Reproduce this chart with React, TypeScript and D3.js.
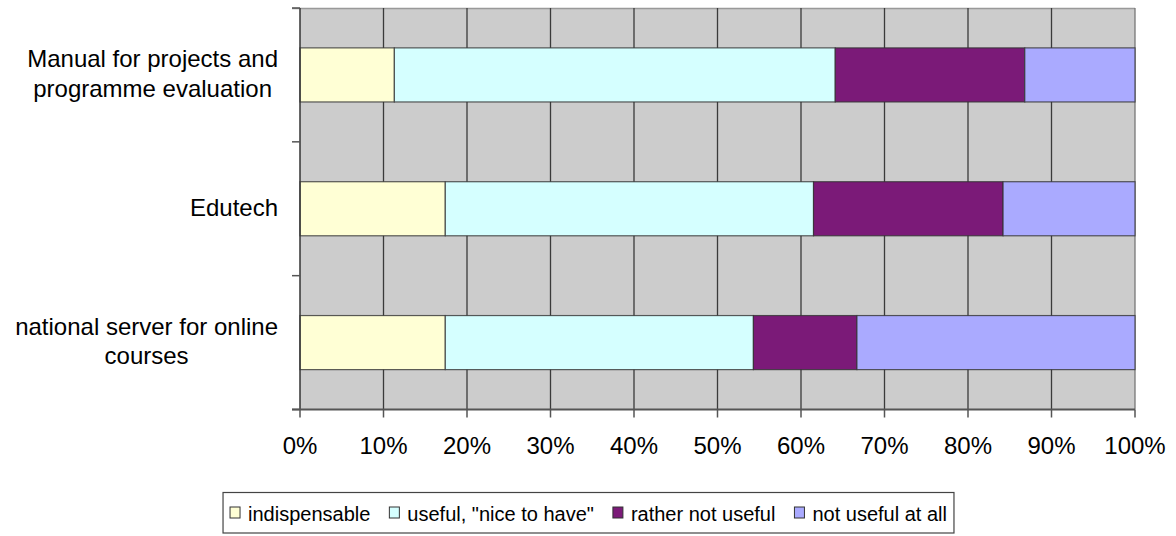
import React, { useEffect, useRef } from "react";
import * as d3 from "d3";

const categories: string[][] = [
  ["Manual for projects and", "programme evaluation"],
  ["Edutech"],
  ["national server for online", "courses"],
];
const seriesNames = ["indispensable", "useful, \"nice to have\"", "rather not useful", "not useful at all"];
const seriesColors = ["#FFFFD5", "#D5FFFF", "#7B1A78", "#AAAAFF"];
const indispensable = [11.3, 17.4, 17.4];
const useful = [52.8, 44.1, 36.9];
const ratherNot = [22.7, 22.7, 12.4];
const notAtAll = [13.2, 15.8, 33.3];
const xTicks = [0, 10, 20, 30, 40, 50, 60, 70, 80, 90, 100];

const W = 1176, H = 536;
const L = 300, R = 1135, T = 8, B = 409.5;
const FONT = "'Liberation Sans', Arial, sans-serif";

export default function App() {
  const ref = useRef<SVGSVGElement>(null);
  useEffect(() => {
    const svg = d3.select(ref.current);
    svg.selectAll("*").remove();
    const rows = categories.map((c, i) => ({
      i,
      s0: indispensable[i],
      s1: useful[i],
      s2: ratherNot[i],
      s3: notAtAll[i],
    }));
    const keys = ["s0", "s1", "s2", "s3"];
    const stacked = d3.stack<any>().keys(keys)(rows);
    const x = d3.scaleLinear().domain([0, 100]).range([L, R]);
    const y = d3.scaleBand<number>().domain(categories.map((_, i) => i)).range([T, B]).paddingInner(0).paddingOuter(0);
    const barH = y.bandwidth() * 0.404;

    svg.append("rect").attr("x", L).attr("y", T).attr("width", R - L).attr("height", B - T).attr("fill", "#CCCCCC");
    svg.append("line").attr("x1", L - 8).attr("x2", R).attr("y1", T + 0.5).attr("y2", T + 0.5).attr("stroke", "#999").attr("stroke-width", 1.5);

    // grid
    svg.append("g").selectAll("line").data(xTicks.slice(1)).join("line")
      .attr("x1", (d) => x(d)).attr("x2", (d) => x(d)).attr("y1", T).attr("y2", B)
      .attr("stroke", (d) => (d === 100 ? "#777" : "#3a3a3a")).attr("stroke-width", 1.3);

    // bars
    stacked.forEach((layer, k) => {
      svg.append("g").selectAll("rect").data(layer).join("rect")
        .attr("x", (d) => x(d[0]))
        .attr("width", (d) => x(d[1]) - x(d[0]))
        .attr("y", (d: any) => (y(d.data.i) as number) + (y.bandwidth() - barH) / 2)
        .attr("height", barH)
        .attr("fill", seriesColors[k])
        .attr("stroke", "#333")
        .attr("stroke-opacity", 0.8)
        .attr("stroke-width", 1.2);
    });

    // axes
    svg.append("line").attr("x1", L).attr("x2", L).attr("y1", T).attr("y2", B).attr("stroke", "#333").attr("stroke-width", 1.5);
    svg.append("line").attr("x1", L - 8).attr("x2", R).attr("y1", B).attr("y2", B).attr("stroke", "#555").attr("stroke-width", 1.8);
    const yBounds = [0, 1, 2].map((i) => y(i) as number).concat([B]);
    svg.append("g").selectAll("line").data(yBounds).join("line")
      .attr("x1", L - 8).attr("x2", L).attr("y1", (d) => d).attr("y2", (d) => d)
      .attr("stroke", "#555").attr("stroke-width", 1.5);
    svg.append("g").selectAll("line").data(xTicks).join("line")
      .attr("x1", (d) => x(d)).attr("x2", (d) => x(d)).attr("y1", B).attr("y2", B + 8)
      .attr("stroke", "#555").attr("stroke-width", 1.5);

    svg.append("g").selectAll("text").data(xTicks).join("text")
      .attr("x", (d) => x(d)).attr("y", 454)
      .attr("text-anchor", "middle").attr("font-family", FONT).attr("font-size", 24).attr("fill", "#000")
      .text((d) => d + "%");

    // category labels
    const labelRight = 278;
    categories.forEach((lines, i) => {
      const cy = (y(i) as number) + y.bandwidth() / 2;
      const g = svg.append("g");
      const lh = 29.5;
      const texts = lines.map((ln, j) =>
        g.append("text")
          .attr("y", cy + (j - (lines.length - 1) / 2) * lh + 7)
          .attr("font-family", FONT).attr("font-size", 24).attr("fill", "#000")
          .attr("text-anchor", "middle").text(ln)
      );
      const widths = texts.map((t) => (t.node() as SVGTextElement).getComputedTextLength());
      const maxW = Math.max(...widths);
      texts.forEach((t) => t.attr("x", labelRight - maxW / 2));
    });

    // legend
    const lg = svg.append("g");
    const items = seriesNames.map((name, k) => {
      const t = lg.append("text").attr("font-family", FONT).attr("font-size", 20).attr("fill", "#000").attr("y", 520.5).text(name);
      return { t, w: (t.node() as SVGTextElement).getComputedTextLength(), k };
    });
    const mark = 11, gap1 = 7, gap2 = 19, pad = 7;
    const total = items.reduce((s, it) => s + mark + gap1 + it.w, 0) + gap2 * (items.length - 1) + pad * 2;
    const lx0 = 588.5 - total / 2;
    lg.insert("rect", ":first-child").attr("x", lx0).attr("y", 492.5).attr("width", total).attr("height", 40.5)
      .attr("fill", "#fff").attr("stroke", "#444").attr("stroke-width", 1.2);
    let cx = lx0 + pad;
    items.forEach((it) => {
      lg.append("rect").attr("x", cx).attr("y", 507).attr("width", mark - 1).attr("height", mark)
        .attr("fill", seriesColors[it.k]).attr("stroke", "#333").attr("stroke-width", 1);
      cx += mark + gap1;
      it.t.attr("x", cx);
      cx += it.w + gap2;
    });
  }, []);
  return (
    <svg ref={ref} width={W} height={H} style={{ position: "absolute", left: 0, top: 0, background: "#fff" }} />
  );
}
